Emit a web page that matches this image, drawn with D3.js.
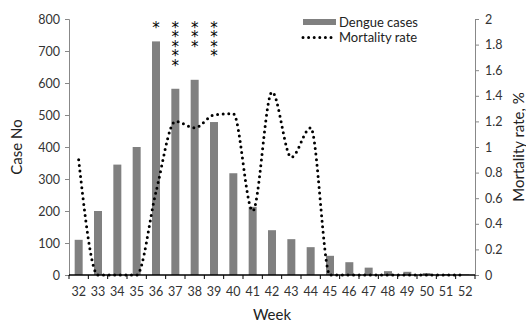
<!DOCTYPE html>
<html lang="en">
<head>
  <meta charset="utf-8">
  <title>Dengue cases and mortality rate by week</title>
  <script src="https://d3js.org/d3.v7.min.js"></script>
  <style>
    body { margin: 0; background: #fff; }
    text { font-family: Lato, "Open Sans", sans-serif; }
    .stars { writing-mode: vertical-rl; text-orientation: upright; font-family: "DejaVu Sans", sans-serif; }
  </style>
</head>
<body>
  <svg width="526" height="323"></svg>
  <script>
    // values
    const weeks = [32, 33, 34, 35, 36, 37, 38, 39, 40, 41, 42, 43, 44, 45, 46, 47, 48, 49, 50, 51, 52];
    const cases = [110, 200, 345, 400, 730, 582, 610, 478, 318, 213, 140, 112, 87, 60, 40, 23, 12, 10, 6, 3, 2];
    const mortality = [0.9, 0, 0, 0, 0.65, 1.2, 1.15, 1.25, 1.26, 0.5, 1.43, 0.92, 1.15, 0, 0, 0, 0, 0, 0, 0, 0];
    const stars = [0, 0, 0, 0, 1, 5, 3, 4, 0, 0, 0, 0, 0, 0, 0, 0, 0, 0, 0, 0, 0];
    const caseTicks = [0, 100, 200, 300, 400, 500, 600, 700, 800];
    const rateTicks = [0, 0.2, 0.4, 0.6, 0.8, 1, 1.2, 1.4, 1.6, 1.8, 2];

    const svg = d3.select("svg");
    const plotLeft = 69, plotRight = 475, plotTop = 19, plotBottom = 275;

    const x = d3.scaleBand().domain(weeks).range([plotLeft, plotRight]);
    const yCases = d3.scaleLinear().domain([0, 800]).range([plotBottom, plotTop]);
    const yRate = d3.scaleLinear().domain([0, 2]).range([plotBottom, plotTop]);

    // bars
    svg.append("g")
      .selectAll("rect")
      .data(weeks)
      .join("rect")
      .attr("x", (d) => x(d) + x.bandwidth() / 2 - 4)
      .attr("width", 8)
      .attr("y", (d, i) => yCases(cases[i]))
      .attr("height", (d, i) => plotBottom - yCases(cases[i]))
      .attr("fill", "#808080");

    // left axis
    const gl = svg.append("g")
      .attr("transform", `translate(${plotLeft},0)`)
      .call(d3.axisLeft(yCases).tickValues(caseTicks).tickSize(4).tickPadding(5));
    gl.select(".domain").attr("stroke", "#888");
    gl.selectAll(".tick line").attr("stroke", "#888");
    gl.selectAll("text").attr("font-size", 12.5).attr("fill", "#333");

    // right axis
    const gr = svg.append("g")
      .attr("transform", `translate(${plotRight},0)`)
      .call(d3.axisRight(yRate).tickValues(rateTicks).tickFormat((d) => String(d)).tickSize(4).tickPadding(6));
    gr.select(".domain").attr("stroke", "#888");
    gr.selectAll(".tick line").attr("stroke", "#888");
    gr.selectAll("text").attr("font-size", 12.5).attr("fill", "#333");

    // bottom axis: ticks between categories
    const gb = svg.append("g")
      .attr("transform", `translate(0,${plotBottom})`)
      .call(d3.axisBottom(x).tickSize(0).tickPadding(12));
    gb.select(".domain").remove();
    gb.selectAll("text").attr("font-size", 12.5).attr("fill", "#333");
    gb.append("line")
      .attr("x1", plotLeft).attr("x2", plotRight)
      .attr("stroke", "#000").attr("stroke-width", 1.3);
    gb.selectAll(".sep")
      .data(weeks.concat([null]))
      .join("line")
      .attr("class", "sep")
      .attr("x1", (d, i) => plotLeft + i * x.step())
      .attr("x2", (d, i) => plotLeft + i * x.step())
      .attr("y1", 0).attr("y2", 4)
      .attr("stroke", "#000");

    // mortality line
    const line = d3.line()
      .x((d, i) => x(weeks[i]) + x.bandwidth() / 2)
      .y((d) => yRate(d))
      .curve(d3.curveMonotoneX);
    svg.append("path")
      .datum(mortality)
      .attr("d", line)
      .attr("fill", "none")
      .attr("stroke", "#000")
      .attr("stroke-width", 3)
      .attr("stroke-linecap", "round")
      .attr("stroke-dasharray", "0 5.6");

    // significance asterisks, one vertical column of text per week
    svg.append("g")
      .selectAll("text")
      .data(weeks.filter((w, i) => stars[i] > 0))
      .join("text")
      .attr("class", "stars")
      .attr("x", (d) => x(d) + x.bandwidth() / 2)
      .attr("y", 19)
      .attr("font-size", 15)
      .attr("letter-spacing", -8.6)
      .attr("fill", "#000")
      .text((d) => "*".repeat(stars[weeks.indexOf(d)]));

    // legend
    const lg = svg.append("g");
    lg.append("rect").attr("x", 303).attr("y", 19).attr("width", 33).attr("height", 6).attr("fill", "#808080");
    lg.append("text").attr("x", 339).attr("y", 27).attr("font-size", 13).attr("fill", "#222").text("Dengue cases");
    lg.append("line").attr("x1", 303).attr("x2", 336).attr("y1", 37.5).attr("y2", 37.5)
      .attr("stroke", "#000").attr("stroke-width", 3).attr("stroke-linecap", "round").attr("stroke-dasharray", "0 5.6");
    lg.append("text").attr("x", 339).attr("y", 42).attr("font-size", 13).attr("fill", "#222").text("Mortality rate");

    // axis titles
    svg.append("text")
      .attr("transform", "translate(22,147) rotate(-90)")
      .attr("text-anchor", "middle").attr("font-size", 15).attr("fill", "#222")
      .text("Case No");
    svg.append("text")
      .attr("transform", "translate(524,147) rotate(-90)")
      .attr("text-anchor", "middle").attr("font-size", 15).attr("fill", "#222")
      .text("Mortality rate, %");
    svg.append("text")
      .attr("x", 272).attr("y", 320)
      .attr("text-anchor", "middle").attr("font-size", 15).attr("fill", "#222")
      .text("Week");
  </script>
</body>
</html>
